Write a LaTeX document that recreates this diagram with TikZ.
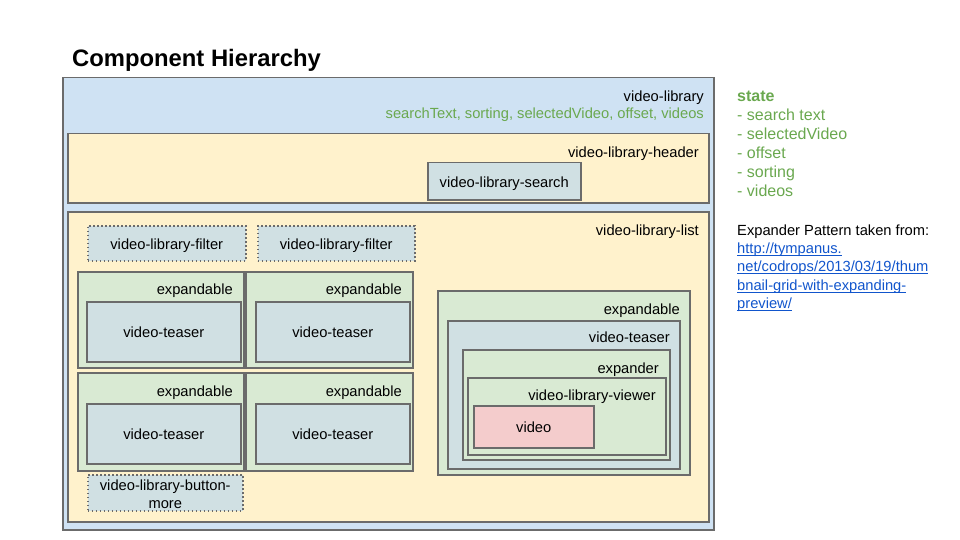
\documentclass[tikz,border=0pt]{standalone}
\usepackage{fontspec}
\setmainfont{Liberation Sans}
\definecolor{bordergray}{HTML}{6B6B6B}
\definecolor{libblue}{HTML}{CFE2F3}
\definecolor{hdryellow}{HTML}{FFF2CC}
\definecolor{expgreen}{HTML}{D9EAD3}
\definecolor{teaserblue}{HTML}{D0E0E3}
\definecolor{videored}{HTML}{F4CCCC}
\definecolor{stategreen}{HTML}{6AA84F}
\definecolor{linkblue}{HTML}{1155CC}
\newcommand{\linkul}[1]{\setbox0\hbox{#1}\rlap{\rule[-1.7pt]{\wd0}{0.9pt}}\box0}
\begin{document}
\begin{tikzpicture}[x=1pt,y=-1pt,
  box/.style={draw=bordergray, line width=1.5pt, inner sep=0pt, anchor=north west},
  dotbox/.style={box, dash pattern=on 1.3pt off 2.7pt},
  lbl/.style={inner sep=0pt, yshift=-2pt, font=\fontsize{14.7}{18}\selectfont, text height=10.5pt, text depth=3pt},
  rlbl/.style={lbl, anchor=east},
  greentxt/.style={text=stategreen},
  statetxt/.style={lbl, anchor=west, text=stategreen, font=\fontsize{16}{19}\selectfont}
]
\useasboundingbox (0,0) rectangle (960,540);
% title
\node[inner sep=0pt, anchor=west, yshift=-2pt, font=\fontsize{23.8}{28}\selectfont\bfseries] (title) at (72,58) {Component Hierarchy};
% outer library
\node[box, fill=libblue, minimum width=651pt, minimum height=452pt] (lib) at (62,77) {};
\node[rlbl] (libl) at (704,96) {video-library};
\node[rlbl, greentxt] (libs) at (704,113) {searchText, sorting, selectedVideo, offset, videos};
% header
\node[box, fill=hdryellow, minimum width=641pt, minimum height=69pt] (hdr) at (67,133) {};
\node[rlbl] (hdrl) at (699,152) {video-library-header};
\node[box, fill=teaserblue, minimum width=153pt, minimum height=37pt] (search) at (427,162) {};
\node[lbl] at (search.center) {video-library-search};
% list
\node[box, fill=hdryellow, minimum width=641pt, minimum height=310pt] (list) at (67,211) {};
\node[rlbl] (listl) at (699,230) {video-library-list};
\node[dotbox, fill=teaserblue, minimum width=158pt, minimum height=35pt] (f1) at (87,225) {};
\node[lbl] at (f1.center) {video-library-filter};
\node[dotbox, fill=teaserblue, minimum width=157pt, minimum height=35pt] (f2) at (257,225) {};
\node[lbl] at (f2.center) {video-library-filter};
% grid of expandables
\node[box, fill=expgreen, minimum width=166pt, minimum height=96pt] (e1) at (77,271) {};
\node[box, fill=expgreen, minimum width=167pt, minimum height=96pt] (e2) at (245,271) {};
\node[box, fill=expgreen, minimum width=166pt, minimum height=98pt] (e3) at (77,372) {};
\node[box, fill=expgreen, minimum width=167pt, minimum height=98pt] (e4) at (245,372) {};
\node[rlbl] (e1l) at (233,289) {expandable};
\node[rlbl] (e2l) at (402,289) {expandable};
\node[rlbl] (e3l) at (233,391) {expandable};
\node[rlbl] (e4l) at (402,391) {expandable};
\node[box, fill=teaserblue, minimum width=154pt, minimum height=60pt] (t1) at (86,301) {};
\node[box, fill=teaserblue, minimum width=154pt, minimum height=60pt] (t2) at (255,301) {};
\node[box, fill=teaserblue, minimum width=154pt, minimum height=60pt] (t3) at (86,403) {};
\node[box, fill=teaserblue, minimum width=154pt, minimum height=60pt] (t4) at (255,403) {};
\node[lbl] at (t1.center) {video-teaser};
\node[lbl] at (t2.center) {video-teaser};
\node[lbl] at (t3.center) {video-teaser};
\node[lbl] at (t4.center) {video-teaser};
% button more
\node[dotbox, fill=teaserblue, minimum width=155pt, minimum height=36pt] (more) at (87,474) {};
\node[lbl, align=center, yshift=1pt, text height=, text depth=] at (more.center) {video-library-button-\\more};
% expanded item
\node[box, fill=expgreen, minimum width=252pt, minimum height=184pt] (bexp) at (437,290) {};
\node[rlbl] (bexpl) at (680,309) {expandable};
\node[box, fill=teaserblue, minimum width=232pt, minimum height=148pt] (bt) at (447,320) {};
\node[rlbl] (btl) at (670,337) {video-teaser};
\node[box, fill=expgreen, minimum width=207pt, minimum height=110pt] (expd) at (462,349) {};
\node[rlbl] (expdl) at (659,368) {expander};
\node[box, fill=expgreen, minimum width=198pt, minimum height=77pt] (viewer) at (467,377) {};
\node[rlbl] (viewerl) at (656,395) {video-library-viewer};
\node[box, fill=videored, minimum width=120pt, minimum height=42pt] (video) at (473,405) {};
\node[lbl] at (video.center) {video};
% side notes
\node[statetxt, font=\fontsize{16}{19}\selectfont\bfseries] (st0) at (737,96) {state};
\node[statetxt] (st1) at (737,115) {- search text};
\node[statetxt] (st2) at (737,134) {- selectedVideo};
\node[statetxt] (st3) at (737,153) {- offset};
\node[statetxt] (st4) at (737,172) {- sorting};
\node[statetxt] (st5) at (737,191) {- videos};
\node[lbl, anchor=west] (ex0) at (737,230) {Expander Pattern taken from:};
\node[lbl, anchor=west, text=linkblue] (ex1) at (737,248) {\linkul{http://tympanus.}};
\node[lbl, anchor=west, text=linkblue] (ex2) at (737,266) {\linkul{net/codrops/2013/03/19/thum}};
\node[lbl, anchor=west, text=linkblue] (ex3) at (737,285) {\linkul{bnail-grid-with-expanding-}};
\node[lbl, anchor=west, text=linkblue] (ex4) at (737,303) {\linkul{preview/}};
\end{tikzpicture}
\end{document}
